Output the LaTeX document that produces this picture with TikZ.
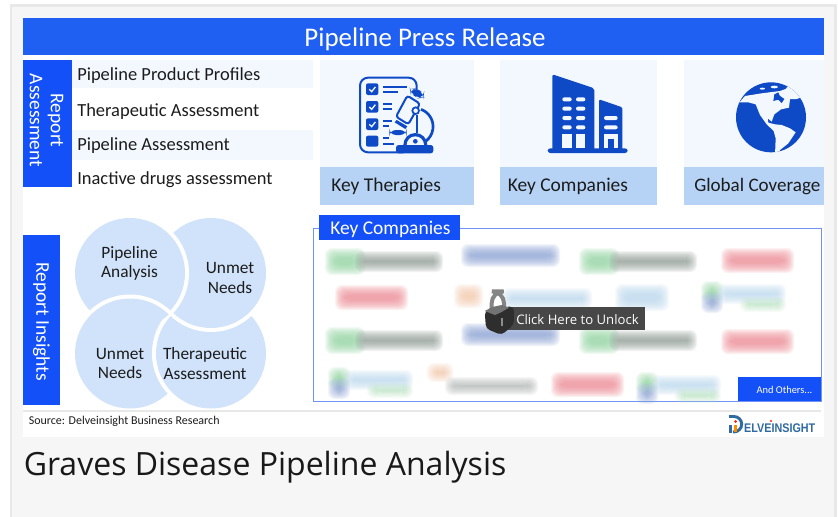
\documentclass[tikz,border=0pt]{standalone}
\usepackage{fontspec}
\setmainfont{Carlito}
\newfontfamily\osans{Open Sans}
\newfontfamily\lsans{Liberation Sans}
\definecolor{hdr}{HTML}{1F5FF2}
\definecolor{side}{HTML}{1450F8}
\definecolor{pale}{HTML}{F3F8FF}
\definecolor{band}{HTML}{B6D3F6}
\definecolor{icon}{HTML}{0F4AC6}
\definecolor{venn}{HTML}{D0E3FA}
\definecolor{ink}{HTML}{1C1C1C}
\definecolor{frameb}{HTML}{6F94F5}
\definecolor{page}{HTML}{F6F6F6}
\definecolor{edge}{HTML}{E8E8E8}
\definecolor{logo}{HTML}{2F6AA0}
\definecolor{bgreen}{HTML}{8FD6A0}
\definecolor{bgray}{HTML}{8E9A94}
\definecolor{bblue}{HTML}{8AA3D4}
\definecolor{bred}{HTML}{F08A94}
\definecolor{blight}{HTML}{BBD9F0}
\definecolor{borange}{HTML}{F5C9A8}
% soft blurred patch: x1 y1 x2 y2 colour
\newcommand{\softpatch}[5]{%
  \foreach \g in {7,6,5,4,3,2,1,0,-1,-2,-3}{%
    \fill[#5,opacity=.115,rounded corners=5pt] (#1-\g,#2-\g) rectangle (#3+\g,#4+\g);}}
\newcommand{\greenlogo}[2]{%
  \begin{scope}[shift={(#1,#2)}]
  \softpatch{4}{5}{30}{18}{bgreen}\softpatch{34}{8}{108}{15}{bgray}
  \end{scope}}
\newcommand{\redlogo}[2]{%
  \begin{scope}[shift={(#1,#2)}]
  \softpatch{5}{5}{64}{16}{bred}
  \end{scope}}
\newcommand{\bluelogo}[2]{%
  \begin{scope}[shift={(#1,#2)}]
  \softpatch{5}{4}{90}{13}{bblue}
  \end{scope}}
\newcommand{\iconlogo}[2]{%
  \begin{scope}[shift={(#1,#2)}]
  \softpatch{5}{3}{13}{10}{bgreen}\softpatch{5}{14}{13}{21}{bblue}
  \softpatch{21}{6}{76}{12}{blight}\softpatch{44}{19}{76}{20}{bgreen!60}
  \end{scope}}
\tikzset{
  listrow/.style={fill=pale,draw=none},
  listtext/.style={anchor=west,font=\fontsize{13.85}{16}\selectfont,text=ink,inner sep=0pt},
  cardtext/.style={anchor=west,font=\fontsize{14.6}{17}\selectfont,text=ink,inner sep=0pt},
  sidetext/.style={rotate=-90,align=center,text=white,inner sep=0pt,font=\fontsize{14.6}{15.8}\selectfont},
  venntext/.style={align=center,text=ink,inner sep=0pt,font=\fontsize{13}{14.4}\selectfont},
  zoomed/.style={x=.25pt,y=-.25pt},
  petal/.pic={\fill[white] (0,0) circle (59);\fill[venn] (0,0) circle (55);},
}
\begin{document}
\begin{tikzpicture}[x=.75pt,y=-.75pt]
\useasboundingbox (0,0) rectangle (838,517);
\fill[white] (0,0) rectangle (838,517);
\fill[edge] (10,4) rectangle (837,517);
\fill[page] (12,7) rectangle (834,517);
\fill[white] (23,18) rectangle (824,437);
% header
\fill[hdr] (23,18) rectangle (824,55);
\node[text=white,inner sep=0pt,font=\fontsize{20.2}{22}\selectfont] (title) at (425,39.5) {Pipeline Press Release};
% report assessment
\fill[side] (23,60) rectangle (72,187);
\node[sidetext] (assess) at (46.5,120.5) {Report\\Assessment};
\fill[listrow] (72,60) rectangle (313,88);
\fill[listrow] (72,130) rectangle (313,160);
\node[listtext] (l1) at (77,75.5) {Pipeline Product Profiles};
\node[listtext] (l2) at (77,112) {Therapeutic Assessment};
\node[listtext] (l3) at (77,145.5) {Pipeline Assessment};
\node[listtext] (l4) at (77,179.5) {Inactive drugs assessment};
% cards
\fill[pale] (320,60) rectangle (474,167);
\fill[band] (320,167) rectangle (474,205);
\fill[pale] (500,60) rectangle (657,167);
\fill[band] (500,167) rectangle (657,205);
\fill[pale] (684,60) rectangle (824,167);
\fill[band] (684,167) rectangle (824,205);
\node[cardtext] (c1) at (331,186.5) {Key Therapies};
\node[cardtext] (c2) at (507.5,186.5) {Key Companies};
\node[cardtext,font=\fontsize{14.3}{17}\selectfont] (c3) at (694,186.5) {Global Coverage};
% therapies icon
\begin{scope}[shift={(350,65)},zoomed]
  \draw[icon,line width=1.5pt,rounded corners=6pt] (160,262) -- (30,262) -- (30,38) -- (200,38) -- (200,85);
  \foreach \y in {55,108,160}{
    \fill[icon,rounded corners=1.5pt] (48,\y) rectangle (85,\y+35);
    \draw[pale,line width=1pt] (58,\y+18) -- (65,\y+25) -- (76,\y+11);}
  \fill[icon,rounded corners=1.5pt] (48,212) rectangle (85,245);
  \draw[icon,line width=1.4pt] (100,65) -- (172,65) (100,80) -- (145,80);
  \draw[icon,line width=1.4pt] (100,116) -- (138,116) (100,132) -- (130,132);
  \draw[icon,line width=1.4pt] (100,168) -- (132,168) (100,184) -- (118,184);
  \draw[icon,line width=1.4pt] (100,220) -- (118,220) (100,236) -- (132,236);
  % microscope
  \fill[pale] (125,85) rectangle (215,185);
  \draw[icon,line width=1.5pt,fill=pale,rounded corners=2pt] (172,92) -- (210,116) -- (175,178) -- (138,155) -- cycle;
  \fill[icon,rounded corners=5pt] (180,72) -- (198,70) -- (222,84) -- (220,98) -- (205,100) -- (182,86) -- cycle;
  \fill[icon] (140,165) -- (172,184) -- (166,192) -- (134,172) -- cycle;
  \draw[icon,line width=1.3pt,fill=pale] (197,137) circle (10);
  \draw[icon,line width=2pt] (213,133) arc[start angle=-70,end angle=60,radius=55];
  \draw[icon,line width=1.5pt] (201,150) -- (201,205);
  \fill[icon,rounded corners=5pt] (118,195) rectangle (170,210);
  \fill[icon] (160,240) arc[start angle=180,end angle=360,radius=36] -- cycle;
  \fill[pale] (170,240) arc[start angle=180,end angle=360,radius=26] -- cycle;
  \fill[icon] (196,229) circle (7);
  \fill[icon,rounded corners=2pt] (138,240) rectangle (250,265);
\end{scope}
% companies icon
\begin{scope}[shift={(535,65)},zoomed]
  \fill[icon,rounded corners=1.5pt] (52,262) -- (52,28) -- (178,70) -- (178,262) -- cycle;
  \fill[icon,rounded corners=1pt] (192,262) -- (192,103) -- (262,127) -- (262,262) -- cycle;
  \fill[icon,rounded corners=2pt] (38,250) rectangle (278,264);
  \foreach \y in {103,131,159,187}{
    \fill[pale,rounded corners=1.5pt] (82,\y-6) rectangle (110,\y+6);
    \fill[pale,rounded corners=1.5pt] (123,\y-6) rectangle (151,\y+6);}
  \fill[pale] (82,208) rectangle (110,249);
  \fill[pale] (123,208) rectangle (151,249);
  \foreach \y in {159,187}{\fill[pale,rounded corners=1.5pt] (207,\y-6) rectangle (248,\y+6);}
  \fill[pale] (207,208) rectangle (248,249);
  \fill[icon] (218,222) rectangle (236,249);
\end{scope}
% globe icon
\begin{scope}[shift={(725,75)},zoomed]
  \fill[icon] (138,127) circle (105);
  \begin{scope}
  \clip (138,127) circle (105);
  \fill[pale] (30,82) -- (45,80) -- (60,63) -- (110,55) -- (165,48) -- (182,42) -- (200,20) -- (250,60) -- (215,72) -- (195,72) -- (192,98) -- (168,103) -- (148,118) -- (140,140) -- (128,130) -- (130,143) -- (150,148) -- (170,150) -- (195,160) -- (212,172) -- (190,205) -- (165,225) -- (158,240) -- (150,240) -- (152,190) -- (146,168) -- (125,148) -- (105,120) -- (92,88) -- (70,82) -- cycle;
  \fill[icon] (148,58) -- (160,52) -- (164,62) -- (178,72) -- (170,84) -- (160,74) -- (145,78) -- cycle;
  \fill[pale] (112,41) ellipse (8 and 3);
  \fill[pale] (148,36) ellipse (11 and 4);
  \end{scope}
\end{scope}
% key companies panel
\draw[frameb,line width=.75pt] (313,228) rectangle (821,401);
% blurred logos
\greenlogo{328}{250}\bluelogo{463}{247}\greenlogo{582}{250}\redlogo{723}{250}
\redlogo{337}{287}
\softpatch{461}{291}{476}{301}{borange}\softpatch{509}{295}{585}{302}{blight}
\softpatch{622}{291}{662}{304}{blight}
\iconlogo{703}{285}
\greenlogo{328}{329}\bluelogo{463}{326}\greenlogo{582}{329}\redlogo{723}{331}
\iconlogo{330}{371}
\softpatch{434}{370}{446}{375}{borange}\softpatch{452}{384}{531}{388}{bgray!70}
\redlogo{553}{374}
\iconlogo{638}{376}
% panel labels
\fill[side] (319,215) rectangle (460,240);
\node[text=white,inner sep=0pt,anchor=west,font=\fontsize{14.6}{17}\selectfont] (kc) at (330,229) {Key Companies};
\fill[side] (738,377) rectangle (821,401);
\node[text=white,inner sep=0pt,font=\fontsize{7.8}{10}\selectfont] (others) at (784.5,389.5) {And Others...};
% unlock tooltip
\fill[black!72] (507,307) rectangle (645,330);
\node[text=white,inner sep=0pt,anchor=west,font=\osans\fontsize{9.85}{12}\selectfont] (unlock) at (516,319.5) {Click Here to Unlock};
\begin{scope}[shift={(475,285)},zoomed]
  \draw[black!48,line width=3pt,rounded corners=9pt] (50,75) -- (50,19) -- (87,19) -- (87,70);
  \fill[black!82,rounded corners=3pt] (29,78) -- (60,68) -- (116,64) -- (117,118) -- (80,150) -- (33,131) -- cycle;
  \fill[black!55] (29,78) -- (52,66) -- (80,60) -- (102,68) -- (78,82) -- (60,90) -- cycle;
  \fill[black!45] (77,98) rectangle (83,122);
\end{scope}
% report insights
\fill[side] (23,235) rectangle (60,405);
\node[sidetext] (insights) at (41.5,321.5) {Report Insights};
% venn petals
\pic at (130,353.5) {petal};
\pic at (211,353.5) {petal};
\pic at (211,273) {petal};
\pic at (130,273) {petal};
\begin{scope}
  \clip (60,200) -- (170,200) -- (170,313.5) -- (162,320) -- (157,327) -- (154,337) -- (60,337) -- cycle;
  \pic at (130,353.5) {petal};
\end{scope}
\node[venntext] (v1) at (129.5,263.5) {Pipeline\\Analysis};
\node[venntext] (v2) at (230,278) {Unmet\\Needs};
\node[venntext] (v3) at (120,363.5) {Unmet\\Needs};
\node[venntext] (v4) at (205,363.5) {Therapeutic\\Assessment};
% footer
\fill[edge] (23,410) rectangle (821,412);
\node[anchor=west,inner sep=0pt,text=ink,font=\fontsize{8.98}{10}\selectfont] (src) at (28.5,421.5) {Source: Delveinsight Business Research};
% logo
\draw[logo,line width=2.2pt] (729,416.5) -- (734,416.5) arc[start angle=-90,end angle=90,radius=7.7] -- (733,432);
\fill[logo] (729,425) rectangle (732,433);
\fill[orange!90!yellow] (734,425) rectangle (737,432);
\fill[red!75!orange] (735.5,421.5) circle (1.5);
\fill[red!75!orange] (771,421) circle (1.2);
\node[anchor=west,inner sep=0pt,text=logo,xscale=.86,font=\lsans\bfseries\fontsize{9.4}{10}\selectfont] (dlogo) at (744,428) {ELVEINSIGHT};
% page title
\node[anchor=west,inner sep=0pt,text=black!90,font=\osans\fontsize{24}{28}\selectfont] (page) at (23.5,467) {Graves Disease Pipeline Analysis};
\end{tikzpicture}
\end{document}
